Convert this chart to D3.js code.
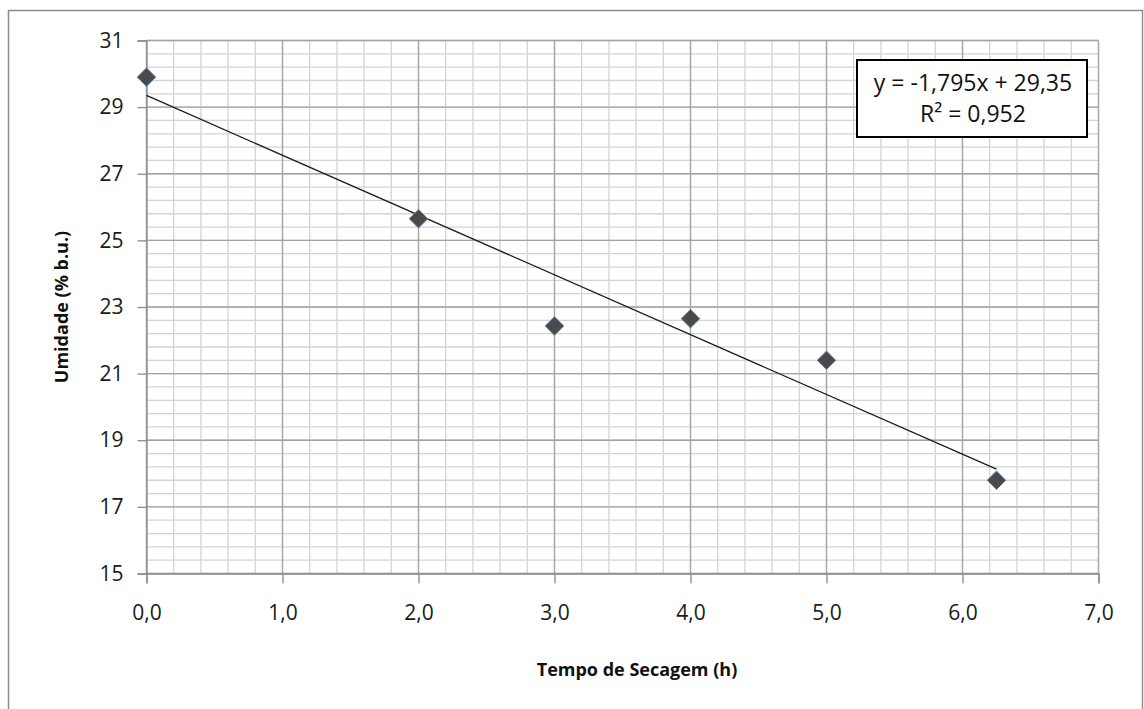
<!DOCTYPE html>
<html>
<head>
<meta charset="utf-8">
<script src="https://cdn.jsdelivr.net/npm/d3@7"></script>
<style>
  body { margin: 0; background: #fff; }
  svg { font-family: "Open Sans", "DejaVu Sans", sans-serif; }
</style>
</head>
<body>
<svg id="chart" width="1144" height="709"></svg>
<script>
// Umidade vs tempo de secagem
let tempo = [0, 2, 3, 4, 5, 6.25];
let umidade = [29.9, 25.65, 22.43, 22.65, 21.4, 17.8];
let xTicks = [0, 1, 2, 3, 4, 5, 6, 7];
let yTicks = [15, 17, 19, 21, 23, 25, 27, 29, 31];
let slope = -1.795;
let intercept = 29.35;
let equationLines = ['y = -1,795x + 29,35', 'R² = 0,952'];

let svg = d3.select('#chart');

// outer chart frame
svg.append('rect')
  .attr('x', 8.5).attr('y', 10.5)
  .attr('width', 1134).attr('height', 710)
  .attr('fill', '#fff')
  .attr('stroke', '#8c8c8c')
  .attr('stroke-width', 1.5);

let xScale = d3.scaleLinear().domain([0, 7]).range([146.5, 1098.5]);
let yScale = d3.scaleLinear().domain([15, 31]).range([573.5, 40.5]);

let fmt = (d) => d3.format('.1f')(d).replace('.', ',');

// minor grid
let grid = svg.append('g');
grid.selectAll('.vminor')
  .data(d3.range(0, 7.001, 0.2))
  .enter()
  .append('line')
  .attr('x1', (d) => xScale(d)).attr('x2', (d) => xScale(d))
  .attr('y1', yScale(15)).attr('y2', yScale(31))
  .attr('stroke', '#d4d4d4').attr('stroke-width', 1.3);
grid.selectAll('.hminor')
  .data(d3.range(15, 31.001, 0.4))
  .enter()
  .append('line')
  .attr('y1', (d) => yScale(d)).attr('y2', (d) => yScale(d))
  .attr('x1', xScale(0)).attr('x2', xScale(7))
  .attr('stroke', '#d4d4d4').attr('stroke-width', 1.3);

// major grid
grid.selectAll('.vmajor')
  .data(xTicks)
  .enter()
  .append('line')
  .attr('x1', (d) => xScale(d)).attr('x2', (d) => xScale(d))
  .attr('y1', yScale(15)).attr('y2', yScale(31))
  .attr('stroke', '#a3a3a3').attr('stroke-width', 1.3);
grid.selectAll('.hmajor')
  .data(yTicks)
  .enter()
  .append('line')
  .attr('y1', (d) => yScale(d)).attr('y2', (d) => yScale(d))
  .attr('x1', xScale(0)).attr('x2', xScale(7))
  .attr('stroke', '#a3a3a3').attr('stroke-width', 1.3);

// axes
let xAxis = d3.axisBottom(xScale).tickValues(xTicks).tickFormat(fmt).tickSize(10).tickPadding(22);
let yAxis = d3.axisLeft(yScale).tickValues(yTicks).tickFormat((d) => d).tickSize(9).tickPadding(14);

let gx = svg.append('g')
  .attr('transform', `translate(0, ${yScale(15)})`)
  .call(xAxis);
let gy = svg.append('g')
  .attr('transform', `translate(${xScale(0)}, 0)`)
  .call(yAxis);

[gx, gy].forEach((g) => {
  g.select('.domain').attr('stroke', '#8c8c8c').attr('stroke-width', 1.3);
  g.selectAll('.tick line').attr('stroke', '#8c8c8c').attr('stroke-width', 1.3);
  g.selectAll('.tick text')
    .attr('fill', '#1a1a1a')
    .style('font-size', '21px')
    .style('font-family', '"Open Sans", sans-serif');
});

// trend line
svg.append('line')
  .attr('x1', xScale(0)).attr('y1', yScale(intercept))
  .attr('x2', xScale(d3.max(tempo))).attr('y2', yScale(intercept + slope * d3.max(tempo)))
  .attr('stroke', '#1a1a1a')
  .attr('stroke-width', 1.3);

// points
let diamond = d3.symbol().type(d3.symbolDiamond2).size(220);
svg.selectAll('.ponto')
  .data(tempo)
  .enter()
  .append('path')
  .attr('d', diamond)
  .attr('transform', (d, i) => `translate(${xScale(d)}, ${yScale(umidade[i])})`)
  .attr('fill', '#4a4a4a')
  .attr('stroke', '#5b86bf')
  .attr('stroke-width', 1);

// equation box
let box = svg.append('g');
box.append('rect')
  .attr('x', 857).attr('y', 60)
  .attr('width', 230).attr('height', 77)
  .attr('fill', '#fff')
  .attr('stroke', '#000')
  .attr('stroke-width', 2);
box.selectAll('text')
  .data(equationLines)
  .enter()
  .append('text')
  .attr('x', 973)
  .attr('y', (d, i) => 91 + i * 31)
  .attr('text-anchor', 'middle')
  .style('font-size', '23px')
  .attr('fill', '#111')
  .text((d) => d);

// axis titles
svg.append('text')
  .attr('x', 637).attr('y', 676)
  .attr('text-anchor', 'middle')
  .style('font-size', '18px')
  .style('font-weight', 'bold')
  .attr('fill', '#111')
  .text('Tempo de Secagem (h)');

svg.append('text')
  .attr('transform', 'translate(68, 307) rotate(-90)')
  .attr('text-anchor', 'middle')
  .style('font-size', '18px')
  .style('font-weight', 'bold')
  .attr('fill', '#111')
  .text('Umidade (% b.u.)');
</script>
</body>
</html>
